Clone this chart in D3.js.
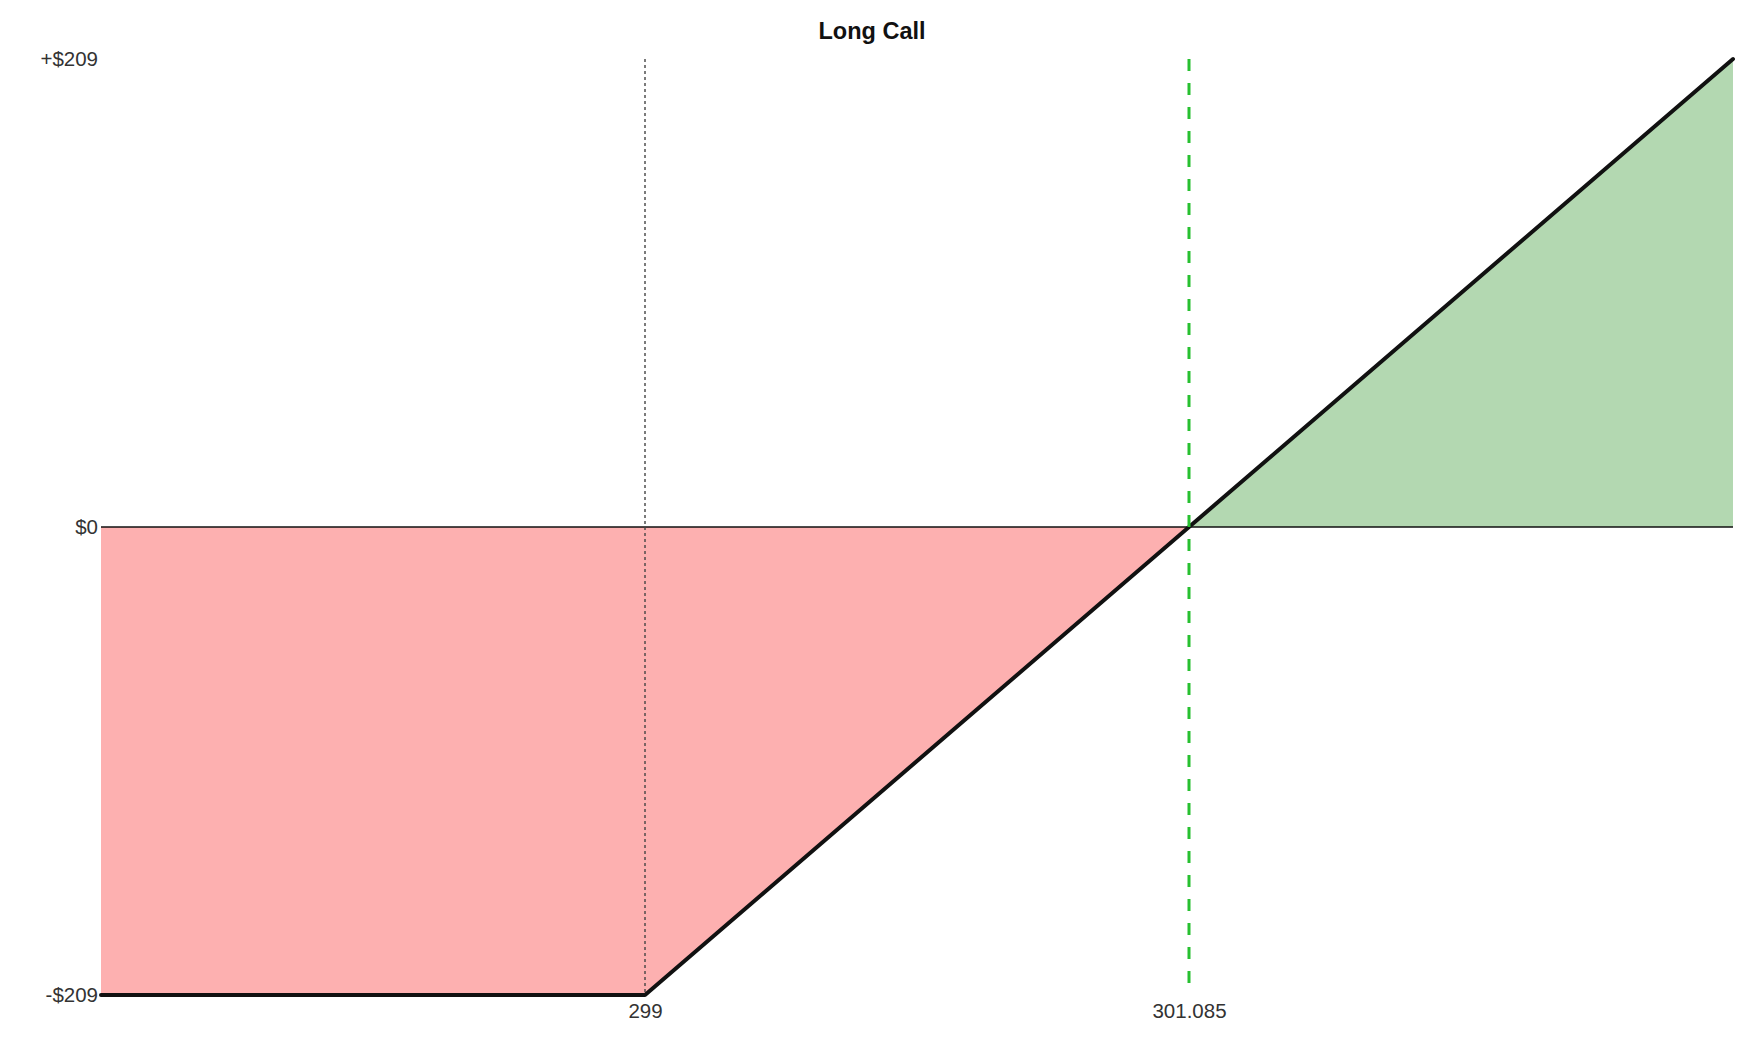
<!DOCTYPE html>
<html>
<head>
<meta charset="utf-8">
<script src="https://cdn.jsdelivr.net/npm/d3@7"></script>
<style>
  html, body { margin: 0; padding: 0; background: #fff; }
  svg { display: block; }
</style>
</head>
<body>
<svg id="chart" width="1762" height="1054"></svg>
<script>
// ---- data ----
const title = "Long Call";
const strike = 299;
const breakeven = 301.085;
const prices = [296.915, 299, 301.085, 303.17];
const pnl = [-208.5, -208.5, 0, 208.5];
const yTickValues = [208.5, 0, -208.5];
const yTickLabels = ["+$209", "$0", "-$209"];
const xTickValues = [299, 301.085];
const xTickLabels = ["299", "301.085"];

const points = prices.map((p, i) => ({ x: p, y: pnl[i] }));

// ---- layout ----
const svg = d3.select("#chart");
const margin = { left: 101, right: 1762 - 1733, top: 59, bottom: 1054 - 995 };
const W = 1762, H = 1054;

const x = d3.scaleLinear().domain([prices[0], prices[prices.length - 1]]).range([margin.left, W - margin.right]);
const y = d3.scaleLinear().domain([-208.5, 208.5]).range([H - margin.bottom, margin.top]);

// loss area (left of breakeven) and gain area (right of breakeven)
const lossPts = points.filter(d => d.x <= breakeven);
const gainPts = points.filter(d => d.x >= breakeven);
const area = d3.area().x(d => x(d.x)).y0(y(0)).y1(d => y(d.y));

svg.append("path").datum(lossPts).attr("d", area).attr("fill", "#fdb0b0");
svg.append("path").datum(gainPts).attr("d", area).attr("fill", "#b3d8b1");

// zero line
svg.append("line")
  .attr("x1", x.range()[0]).attr("x2", x.range()[1])
  .attr("y1", y(0)).attr("y2", y(0))
  .attr("stroke", "#111").attr("stroke-width", 1.5);

// strike dotted line
svg.append("line")
  .attr("x1", x(strike)).attr("x2", x(strike))
  .attr("y1", y.range()[1]).attr("y2", y.range()[0])
  .attr("stroke", "#444").attr("stroke-width", 1.4)
  .attr("stroke-dasharray", "3,3");

// payoff line
svg.append("path").datum(points)
  .attr("d", d3.line().x(d => x(d.x)).y(d => y(d.y)))
  .attr("fill", "none").attr("stroke", "#111").attr("stroke-width", 4)
  .attr("stroke-linejoin", "round").attr("stroke-linecap", "round");

// breakeven dashed green line
svg.append("line")
  .attr("x1", x(breakeven)).attr("x2", x(breakeven))
  .attr("y1", y.range()[1]).attr("y2", y.range()[0])
  .attr("stroke", "#27c030").attr("stroke-width", 3)
  .attr("stroke-dasharray", "12,12");

// y axis labels
const yAxis = d3.axisLeft(y).tickValues(yTickValues)
  .tickFormat((d, i) => yTickLabels[i]).tickSize(0).tickPadding(3);
const gy = svg.append("g").attr("transform", `translate(${margin.left},0)`).call(yAxis);
gy.select(".domain").remove();
gy.selectAll("text").attr("font-family", "Liberation Sans, Arial, sans-serif")
  .attr("font-size", 20.5).attr("fill", "#333");

// x axis labels
const xAxis = d3.axisBottom(x).tickValues(xTickValues)
  .tickFormat((d, i) => xTickLabels[i]).tickSize(0).tickPadding(8);
const gx = svg.append("g").attr("transform", `translate(0,${H - margin.bottom})`).call(xAxis);
gx.select(".domain").remove();
gx.selectAll("text").attr("font-family", "Liberation Sans, Arial, sans-serif")
  .attr("font-size", 20.5).attr("fill", "#333");

// title
svg.append("text")
  .attr("x", 872).attr("y", 39)
  .attr("text-anchor", "middle")
  .attr("font-family", "Liberation Sans, Arial, sans-serif")
  .attr("font-weight", "bold").attr("font-size", 23.5).attr("fill", "#111")
  .text(title);
</script>
</body>
</html>
